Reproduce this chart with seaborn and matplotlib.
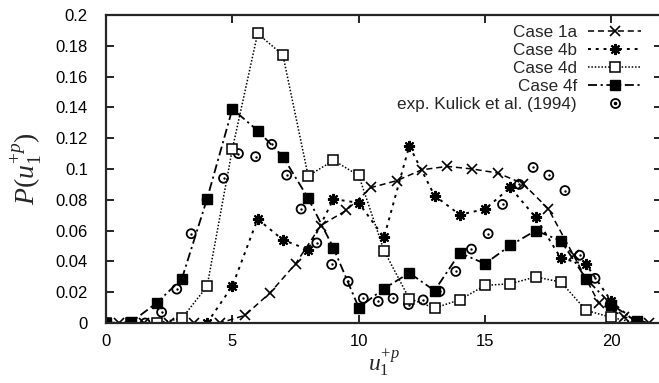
import numpy as np
import pandas as pd
import matplotlib
matplotlib.use("Agg")
import matplotlib.pyplot as plt
import seaborn as sns
from matplotlib.legend_handler import HandlerTuple
from matplotlib.lines import Line2D

# ---------------- data ----------------
x_int = list(range(0, 22))
x_half = [v + 0.5 for v in range(0, 22)]

case1a = [0, 0, 0, 0, 0, 0.005, 0.0197, 0.0384, 0.0633, 0.0731, 0.088, 0.0924,
          0.0995, 0.1017, 0.100, 0.0974, 0.0905, 0.0742, 0.044, 0.013, 0.004, 0]
case4b = [0, 0, 0, 0, 0, 0.024, 0.0675, 0.054, 0.0476, 0.0805, 0.078, 0.0556,
          0.115, 0.0827, 0.0703, 0.074, 0.088, 0.0686, 0.042, 0.038, 0.014, 0]
case4d = [0, 0, 0, 0.003, 0.0238, 0.113, 0.188, 0.174, 0.0955, 0.1056, 0.0958, 0.047,
          0.0158, 0.0097, 0.0151, 0.0244, 0.0255, 0.0299, 0.0266, 0.0082, 0.0036, 0]
case4f = [0, 0.0006, 0.013, 0.0286, 0.0807, 0.139, 0.125, 0.108, 0.081, 0.0487, 0.010,
          0.0223, 0.0325, 0.021, 0.0455, 0.0385, 0.0504, 0.060, 0.0534, 0.0286, 0.012, 0.001]

exp_x = [1.55, 2.2, 2.8, 3.37, 4.0, 4.65, 5.24, 5.92, 6.56, 7.15, 7.72, 8.34, 8.93,
         9.58, 10.18, 10.77, 11.36, 11.97, 12.55, 13.21, 13.84, 14.46, 15.12, 15.69,
         16.35, 16.9, 17.52, 18.16, 18.74, 19.35, 19.95]
exp_y = [0, 0.007, 0.022, 0.058, 0.08, 0.094, 0.110, 0.108, 0.116, 0.096, 0.074, 0.052,
         0.038, 0.027, 0.016, 0.014, 0.016, 0.012, 0.015, 0.0205, 0.0335, 0.048, 0.058,
         0.077, 0.09, 0.101, 0.096, 0.086, 0.044, 0.029, 0.012]

labels = ["Case 1a", "Case 4b", "Case 4d", "Case 4f", "exp. Kulick et al. (1994)"]
xticks = [0, 5, 10, 15, 20]
yticks = [0, 0.02, 0.04, 0.06, 0.08, 0.1, 0.12, 0.14, 0.16, 0.18, 0.2]
ytick_labels = ["0", "0.02", "0.04", "0.06", "0.08", "0.1", "0.12", "0.14", "0.16", "0.18", "0.2"]

# ---------------- style ----------------
sns.set_style("ticks")
plt.rcParams["font.family"] = ["Liberation Sans", "DejaVu Sans"]
plt.rcParams["mathtext.fontset"] = "custom"
plt.rcParams["mathtext.rm"] = "Liberation Serif"
plt.rcParams["mathtext.it"] = "Liberation Serif:italic"

W, H = 659, 383
fig = plt.figure(figsize=(W / 100, H / 100), dpi=100)
left, right, top, bottom = 106, 662, 15, 323
ax = fig.add_axes([left / W, 1 - bottom / H, (right - left) / W, (bottom - top) / H])

lw = 1.1
df1 = pd.DataFrame({"x": x_half, "y": case1a})
df_b = pd.DataFrame({"x": x_int, "y": case4b})
df_d = pd.DataFrame({"x": x_int, "y": case4d})
df_f = pd.DataFrame({"x": x_int, "y": case4f})
dfe = pd.DataFrame({"x": exp_x, "y": exp_y})

sns.lineplot(data=df1, x="x", y="y", ax=ax, color="black", lw=lw,
             linestyle=(0, (4, 2.5)), marker="x", markersize=7.5, mew=1.2,
             markeredgecolor="black", label=labels[0], sort=False)
sns.lineplot(data=df_b, x="x", y="y", ax=ax, color="black", lw=lw + 0.3,
             linestyle=(0, (1.5, 2.5)), marker=(8, 2, 0), markersize=8, mew=1.5,
             markeredgecolor="black", label=labels[1], sort=False)
sns.lineplot(data=df_d, x="x", y="y", ax=ax, color="black", lw=lw,
             linestyle=(0, (1, 1.2)), marker="s", markersize=6.5, mew=1.1,
             markerfacecolor="white", markeredgecolor="black",
             label=labels[2], sort=False)
sns.lineplot(data=df_f, x="x", y="y", ax=ax, color="black", lw=lw + 0.2,
             linestyle=(0, (5, 2, 1.2, 2)), marker="s", markersize=6.5, mew=1.0,
             markerfacecolor="black", markeredgecolor="black",
             label=labels[3], sort=False)
sns.scatterplot(data=dfe, x="x", y="y", ax=ax, marker="o", s=42,
                facecolor="none", edgecolor="black", linewidth=1.3)
sns.scatterplot(data=dfe, x="x", y="y", ax=ax, marker="o", s=3,
                color="black", linewidth=0)

ax.set_xlim(0, 22)
ax.set_ylim(0, 0.2)
ax.set_xticks(xticks)
ax.set_xticklabels([str(v) for v in xticks])
ax.set_yticks(yticks)
ax.set_yticklabels(ytick_labels)
ax.tick_params(direction="in", length=6, width=1.2, top=True, right=True,
               labelsize=12, colors="black")
ax.tick_params(axis="x", pad=8)
ax.tick_params(axis="y", pad=13)
for sp in ax.spines.values():
    sp.set_linewidth(1.6)
    sp.set_visible(True)

ax.set_xlabel(r"$u_1^{+p}$", fontsize=17, labelpad=-1)
ax.set_ylabel(r"$P(u_1^{+p})$", fontsize=20, labelpad=8)

# legend: labels on the left, samples on the right (gnuplot style)
handles, _ = ax.get_legend_handles_labels()
h_open = Line2D([], [], marker="o", ls="none", markersize=6.5, markerfacecolor="none",
                markeredgecolor="black", mew=1.3)
h_dot = Line2D([], [], marker="o", ls="none", markersize=1.6, color="black")
handles = handles[:4] + [(h_open, h_dot)]
leg = ax.legend(handles, labels, loc="upper right", markerfirst=False, frameon=False,
                bbox_to_anchor=(641 / W, 1 - 25 / H), bbox_transform=fig.transFigure,
                borderpad=0, borderaxespad=0, labelspacing=0.17, handlelength=3.1,
                handletextpad=0.65, fontsize=12.3,
                handler_map={tuple: HandlerTuple(ndivide=1)})

fig.savefig("out.png", dpi=100)
